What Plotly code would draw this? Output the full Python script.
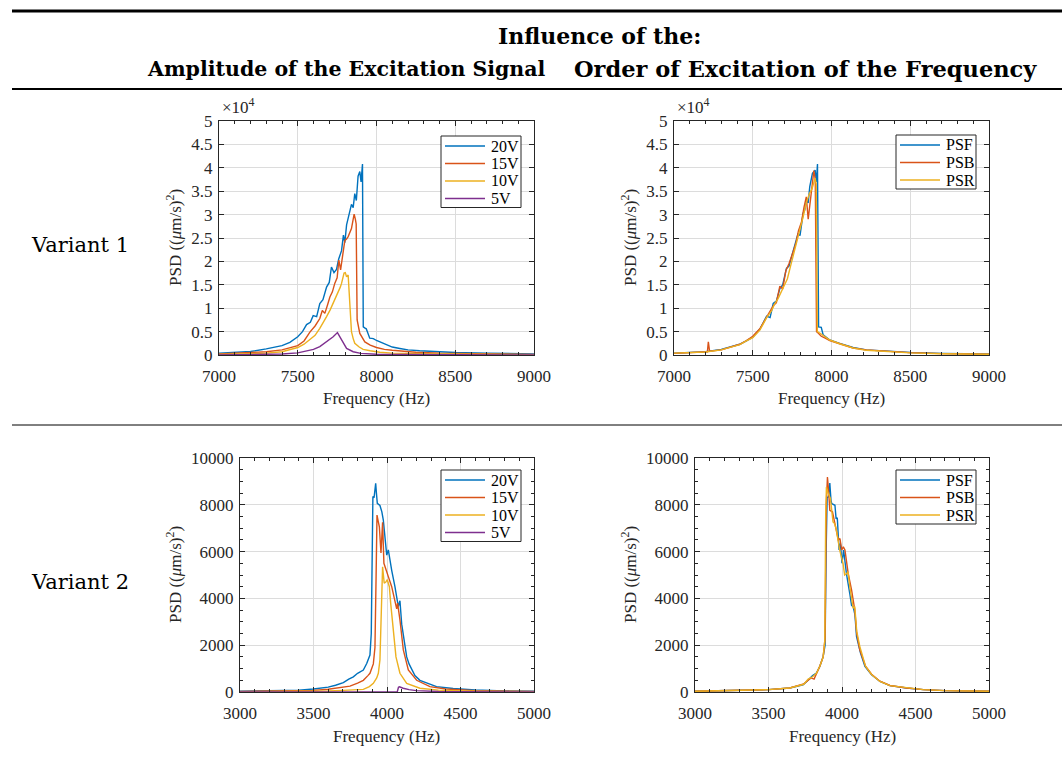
import plotly.graph_objects as go

W, H = 1062, 758

# ---------------- data ----------------
# Variant 1, amplitude influence
f_v1_20 = [7000, 7100, 7200, 7300, 7400, 7450, 7500, 7530, 7556, 7580, 7598, 7620, 7640, 7660, 7683, 7700, 7714, 7730, 7746, 7760, 7778, 7790, 7799, 7810, 7820, 7830, 7841, 7852, 7862, 7872, 7883, 7894, 7902, 7911, 7916, 7925, 7935, 7957, 7980, 8000, 8030, 8063, 8100, 8148, 8200, 8274, 8400, 8500, 8700, 9000]
p_v1_20 = [400, 550, 750, 1300, 2000, 2700, 3900, 5000, 6500, 7000, 8400, 8200, 11000, 11800, 14500, 15500, 18800, 17600, 18300, 20500, 22300, 25600, 24000, 27800, 29300, 30500, 32200, 31500, 34500, 33000, 38200, 39200, 37000, 40800, 6000, 5800, 5600, 3600, 3500, 3100, 2700, 2200, 1700, 1400, 1100, 900, 650, 550, 400, 250]
f_v1_15 = [7000, 7200, 7300, 7400, 7500, 7540, 7577, 7610, 7640, 7656, 7672, 7690, 7704, 7720, 7735, 7750, 7761, 7772, 7788, 7799, 7810, 7820, 7841, 7858, 7866, 7871, 7877, 7894, 7926, 7960, 8000, 8050, 8100, 8148, 8250, 8400, 8600, 9000]
p_v1_15 = [200, 450, 700, 1100, 2000, 3000, 4900, 6200, 7800, 9500, 8900, 10800, 12400, 13500, 15300, 16500, 20300, 18200, 22300, 24500, 24800, 25300, 27000, 30100, 29000, 28000, 7500, 4600, 2800, 2100, 1600, 1200, 1000, 850, 600, 400, 250, 100]
f_v1_10 = [7000, 7200, 7300, 7400, 7500, 7540, 7577, 7610, 7640, 7660, 7683, 7705, 7725, 7740, 7756, 7770, 7778, 7794, 7802, 7810, 7820, 7826, 7832, 7841, 7852, 7862, 7890, 7915, 7960, 8021, 8100, 8300, 8600, 9000]
p_v1_10 = [100, 250, 400, 700, 1600, 2300, 3200, 4200, 5700, 6800, 8200, 9600, 11000, 12300, 13200, 14500, 15300, 17500, 17600, 16700, 17100, 14000, 9000, 5000, 3500, 2500, 1700, 1200, 900, 600, 400, 250, 150, 80]
f_v1_5 = [7000, 7200, 7400, 7500, 7560, 7600, 7640, 7683, 7725, 7752, 7778, 7810, 7852, 7900, 8000, 8200, 8500, 9000]
p_v1_5 = [20, 60, 200, 450, 900, 1200, 1800, 2800, 3900, 4800, 3200, 1400, 700, 350, 150, 80, 40, 20]

# Variant 1, order of excitation
f_v1_psf = [7000, 7100, 7200, 7300, 7418, 7460, 7500, 7545, 7588, 7610, 7630, 7650, 7672, 7690, 7714, 7730, 7756, 7770, 7788, 7800, 7820, 7830, 7841, 7852, 7862, 7879, 7896, 7904, 7911, 7918, 7935, 7947, 7989, 8052, 8137, 8221, 8350, 8500, 8700, 9000]
p_v1_psf = [400, 550, 700, 1200, 2300, 3000, 3800, 5500, 8300, 8000, 11000, 11500, 14200, 15000, 18500, 19000, 22000, 23500, 26000, 25500, 30300, 31000, 33100, 32500, 36000, 38800, 39500, 37000, 40800, 6000, 5900, 4300, 3200, 2500, 1600, 1100, 800, 550, 350, 200]
f_v1_psb = [7000, 7100, 7200, 7212, 7218, 7226, 7300, 7418, 7460, 7500, 7545, 7580, 7600, 7630, 7650, 7672, 7690, 7710, 7730, 7756, 7775, 7790, 7810, 7825, 7840, 7852, 7868, 7880, 7888, 7897, 7905, 7915, 7935, 7960, 7989, 8052, 8137, 8221, 8350, 8500, 8700, 9000]
p_v1_psb = [350, 500, 650, 700, 2800, 800, 1100, 2300, 3100, 4000, 5600, 7800, 8800, 10500, 11200, 14700, 14100, 18000, 19500, 22000, 24000, 26500, 28500, 31500, 33800, 29000, 33500, 38000, 39400, 37500, 5000, 4700, 4000, 3600, 3100, 2400, 1500, 1100, 750, 500, 300, 150]
f_v1_psr = [7000, 7100, 7200, 7300, 7418, 7460, 7500, 7545, 7588, 7620, 7640, 7660, 7680, 7700, 7720, 7740, 7760, 7780, 7800, 7820, 7840, 7860, 7876, 7888, 7896, 7903, 7910, 7930, 7960, 7989, 8052, 8137, 8221, 8350, 8500, 8700, 9000]
p_v1_psr = [400, 500, 650, 1100, 2200, 3000, 3700, 5300, 8000, 9500, 11000, 12000, 13500, 14800, 16300, 19000, 21500, 24500, 26500, 29500, 32500, 34500, 35500, 37000, 37800, 36500, 5000, 4600, 3800, 3200, 2400, 1500, 1000, 700, 450, 280, 150]

# Variant 2, amplitude influence
f_v2_20 = [3000, 3200, 3400, 3500, 3600, 3650, 3703, 3740, 3771, 3800, 3839, 3862, 3884, 3893, 3900, 3904, 3912, 3918, 3923, 3928, 3934, 3952, 3965, 3975, 3986, 3998, 4009, 4020, 4032, 4054, 4077, 4088, 4100, 4117, 4134, 4150, 4168, 4190, 4224, 4280, 4337, 4450, 4600, 4800, 5000]
p_v2_20 = [30, 50, 80, 130, 210, 290, 400, 550, 650, 800, 940, 1220, 1580, 2500, 7500, 8350, 8300, 8600, 8920, 8500, 8060, 7970, 7700, 7350, 6500, 5850, 6070, 5600, 5200, 4500, 3650, 3900, 2900, 2200, 1500, 1200, 940, 700, 500, 350, 230, 150, 90, 50, 30]
f_v2_15 = [3000, 3300, 3500, 3600, 3700, 3748, 3800, 3839, 3870, 3884, 3907, 3918, 3926, 3932, 3940, 3948, 3959, 3965, 3970, 3979, 3993, 4009, 4032, 4054, 4066, 4072, 4088, 4111, 4145, 4202, 4292, 4400, 4600, 5000]
p_v2_15 = [20, 40, 70, 120, 200, 250, 380, 500, 700, 800, 1200, 1900, 5000, 7560, 7300, 7060, 5940, 6800, 7250, 5500, 5200, 4930, 4500, 3800, 3550, 3800, 3080, 1800, 940, 500, 230, 130, 60, 20]
f_v2_10 = [3000, 3400, 3600, 3700, 3800, 3839, 3880, 3907, 3930, 3941, 3952, 3960, 3966, 3970, 3981, 3992, 4002, 4016, 4025, 4043, 4061, 4088, 4134, 4224, 4350, 4600, 5000]
p_v2_10 = [10, 20, 40, 70, 100, 110, 230, 370, 600, 800, 1370, 3000, 5000, 5350, 4650, 4700, 4800, 4500, 3800, 2650, 1500, 800, 370, 160, 80, 30, 10]
f_v2_5 = [3000, 3500, 4000, 4070, 4078, 4085, 4110, 4150, 4200, 4250, 4350, 4500, 5000]
p_v2_5 = [0, 0, 5, 10, 200, 220, 160, 100, 60, 40, 20, 10, 5]

# Variant 2, order of excitation
f_v2_psf = [3000, 3200, 3400, 3500, 3645, 3700, 3735, 3760, 3781, 3800, 3826, 3849, 3872, 3885, 3892, 3899, 3908, 3917, 3925, 3930, 3952, 3960, 3968, 3975, 3980, 3989, 4000, 4011, 4030, 4053, 4065, 4076, 4088, 4099, 4126, 4156, 4201, 4258, 4326, 4440, 4553, 4700, 5000]
p_v2_psf = [30, 50, 80, 100, 170, 250, 310, 450, 600, 700, 810, 1090, 1520, 2000, 6000, 8300, 8350, 8930, 8200, 8050, 7980, 7400, 7450, 6500, 6070, 6350, 5500, 6070, 5070, 4200, 3700, 3650, 3300, 2370, 1660, 1090, 740, 450, 270, 170, 100, 60, 30]
f_v2_psb = [3000, 3200, 3400, 3500, 3645, 3700, 3740, 3770, 3790, 3810, 3830, 3849, 3872, 3885, 3893, 3901, 3910, 3917, 3935, 3952, 3965, 3975, 3986, 3998, 4009, 4020, 4042, 4065, 4087, 4100, 4121, 4160, 4201, 4258, 4326, 4440, 4553, 4700, 5000]
p_v2_psb = [30, 50, 80, 100, 170, 260, 350, 500, 600, 550, 800, 1100, 1500, 2300, 8000, 9190, 8500, 7760, 7700, 7200, 6900, 6500, 6560, 6070, 6200, 6070, 5070, 4360, 3500, 2500, 1800, 1100, 760, 460, 280, 170, 100, 60, 30]
f_v2_psr = [3000, 3200, 3400, 3500, 3645, 3700, 3740, 3770, 3800, 3826, 3849, 3872, 3883, 3889, 3894, 3905, 3921, 3939, 3950, 3962, 3984, 4007, 4018, 4030, 4041, 4053, 4076, 4087, 4100, 4121, 4160, 4201, 4258, 4326, 4440, 4553, 4700, 5000]
p_v2_psr = [30, 50, 80, 100, 170, 250, 330, 550, 650, 800, 1100, 1500, 2200, 7500, 8760, 8500, 8270, 7270, 7200, 6920, 6070, 5500, 5000, 5050, 5140, 4500, 3580, 3650, 2600, 1950, 1100, 750, 450, 270, 170, 100, 60, 30]

amp_names = ["20V", "15V", "10V", "5V"]
ord_names = ["PSF", "PSB", "PSR"]
top_yticks = [0, 5000, 10000, 15000, 20000, 25000, 30000, 35000, 40000, 45000, 50000]
top_yticktext = ["0", "0.5", "1", "1.5", "2", "2.5", "3", "3.5", "4", "4.5", "5"]

colors = ["#0072BD", "#D95319", "#EDB120", "#7E2F8E"]

# ---------------- figure ----------------
fig = go.Figure()

def px_x(v):
    return v / W

def px_y(v):
    return (H - v) / H

panels = [
    # (xaxis id, yaxis id, x-domain px, y-domain px, series, names, legend box px)
    ("x", "y", (219, 534), (121, 355),
     [(f_v1_20, p_v1_20), (f_v1_15, p_v1_15), (f_v1_10, p_v1_10), (f_v1_5, p_v1_5)], amp_names,
     (441, 521, 136)),
    ("x2", "y2", (674, 989), (121, 355),
     [(f_v1_psf, p_v1_psf), (f_v1_psb, p_v1_psb), (f_v1_psr, p_v1_psr)], ord_names,
     (896, 976, 135)),
    ("x3", "y3", (240, 534), (458, 692),
     [(f_v2_20, p_v2_20), (f_v2_15, p_v2_15), (f_v2_10, p_v2_10), (f_v2_5, p_v2_5)], amp_names,
     (441, 521, 470)),
    ("x4", "y4", (695, 989), (458, 692),
     [(f_v2_psf, p_v2_psf), (f_v2_psb, p_v2_psb), (f_v2_psr, p_v2_psr)], ord_names,
     (896, 976, 470)),
]

FONT = "Liberation Serif"
AXC = "#262626"
LEG_STEP = 17.5

for i, (xa, ya, xd, yd, series, names, lgbox) in enumerate(panels):
    for j, ((fx, py), nm) in enumerate(zip(series, names)):
        fig.add_trace(go.Scatter(
            x=fx, y=py, mode="lines", name=nm, xaxis=xa, yaxis=ya, showlegend=False,
            line=dict(color=colors[j], width=1.4), hoverinfo="skip"))
    n = "" if i == 0 else str(i + 1)
    top = i < 2
    xr = [7000, 9000] if top else [3000, 5000]
    common = dict(showline=True, linecolor=AXC, linewidth=1, mirror="ticks",
                  ticks="inside", ticklen=5, tickcolor=AXC, tickwidth=1,
                  showgrid=True, gridcolor="#dcdcdc", gridwidth=1, zeroline=False,
                  tickfont=dict(family=FONT, size=17, color=AXC), automargin=False)
    fig.update_layout(**{
        "xaxis" + n: dict(domain=[px_x(xd[0]), px_x(xd[1])], range=xr, dtick=500,
                          anchor=ya, tickformat="d", ticklabelstandoff=6,
                          minor=dict(ticks="inside", ticklen=3, dtick=100, tickcolor=AXC, showgrid=False),
                          **common),
    })
    if top:
        yax = dict(domain=[px_y(yd[1]), px_y(yd[0])], range=[0, 50000], tickmode="array",
                   tickvals=top_yticks, ticktext=top_yticktext, anchor=xa,
                   ticklabelstandoff=2, **common)
    else:
        yax = dict(domain=[px_y(yd[1]), px_y(yd[0])], range=[0, 10000], dtick=2000,
                   anchor=xa, tickformat="d", ticklabelstandoff=2,
                   minor=dict(ticks="inside", ticklen=3, dtick=500, tickcolor=AXC, showgrid=False),
                   **common)
    fig.update_layout(**{"yaxis" + n: yax})

    # legend box (drawn in figure pixels)
    bx0, bx1, by0 = lgbox
    by1 = by0 + 10 + LEG_STEP * (len(names) - 1) + 9
    fig.add_shape(type="rect", xref="paper", yref="paper",
                  x0=px_x(bx0), x1=px_x(bx1), y0=px_y(by0), y1=px_y(by1),
                  line=dict(color=AXC, width=1), fillcolor="white", layer="above")
    for j, nm in enumerate(names):
        yy = by0 + 10 + LEG_STEP * j
        fig.add_shape(type="line", xref="paper", yref="paper",
                      x0=px_x(bx0 + 4), x1=px_x(bx0 + 44), y0=px_y(yy), y1=px_y(yy),
                      line=dict(color=colors[j], width=1.4), layer="above")
        fig.add_annotation(text=nm, xref="paper", yref="paper",
                           x=px_x(bx0 + 48), y=px_y(yy), xanchor="left", yanchor="middle",
                           showarrow=False, font=dict(family=FONT, size=16, color="black"))

    # axis titles
    fig.add_annotation(text="Frequency (Hz)", xref="paper", yref="paper",
                       x=px_x((xd[0] + xd[1]) / 2), y=px_y(yd[1] + 44),
                       xanchor="center", yanchor="middle", showarrow=False,
                       font=dict(family=FONT, size=17, color=AXC))
    fig.add_annotation(text="PSD ((<i>μ</i>m/s)<sup>2</sup>)", xref="paper", yref="paper",
                       x=px_x(xd[0] - (45 if top else 66)), y=px_y((yd[0] + yd[1]) / 2),
                       xanchor="center", yanchor="middle", showarrow=False, textangle=-90,
                       font=dict(family=FONT, size=17, color=AXC))
    if top:
        fig.add_annotation(text="×10<sup>4</sup>", xref="paper", yref="paper",
                           x=px_x(xd[0] + 1), y=px_y(yd[0] - 2),
                           xanchor="left", yanchor="bottom", showarrow=False,
                           font=dict(family=FONT, size=17, color=AXC))

# header texts
HF = "DejaVu Serif"
fig.add_annotation(text="<b>Influence of the:</b>", xref="paper", yref="paper",
                   x=px_x(599), y=px_y(36), xanchor="center", yanchor="middle",
                   showarrow=False, font=dict(family=HF, size=22, color="black"))
fig.add_annotation(text="<b>Amplitude of the Excitation Signal</b>", xref="paper", yref="paper",
                   x=px_x(346), y=px_y(69), xanchor="center", yanchor="middle",
                   showarrow=False, font=dict(family=HF, size=20.5, color="black"))
fig.add_annotation(text="<b>Order of Excitation of the Frequency</b>", xref="paper", yref="paper",
                   x=px_x(805), y=px_y(69), xanchor="center", yanchor="middle",
                   showarrow=False, font=dict(family=HF, size=22.5, color="black"))
fig.add_annotation(text="Variant 1", xref="paper", yref="paper",
                   x=px_x(80), y=px_y(245), xanchor="center", yanchor="middle",
                   showarrow=False, font=dict(family=HF, size=21, color="black"))
fig.add_annotation(text="Variant 2", xref="paper", yref="paper",
                   x=px_x(80), y=px_y(582), xanchor="center", yanchor="middle",
                   showarrow=False, font=dict(family=HF, size=21, color="black"))

# table rules
for yy, lw in [(11, 3), (89, 2), (425, 1)]:
    fig.add_shape(type="line", xref="paper", yref="paper",
                  x0=px_x(12), x1=1, y0=px_y(yy), y1=px_y(yy),
                  line=dict(color="black", width=lw))

fig.update_layout(width=W, height=H, margin=dict(l=0, r=0, t=0, b=0),
                  paper_bgcolor="white", plot_bgcolor="white", showlegend=False)

fig.write_html("out.html")
